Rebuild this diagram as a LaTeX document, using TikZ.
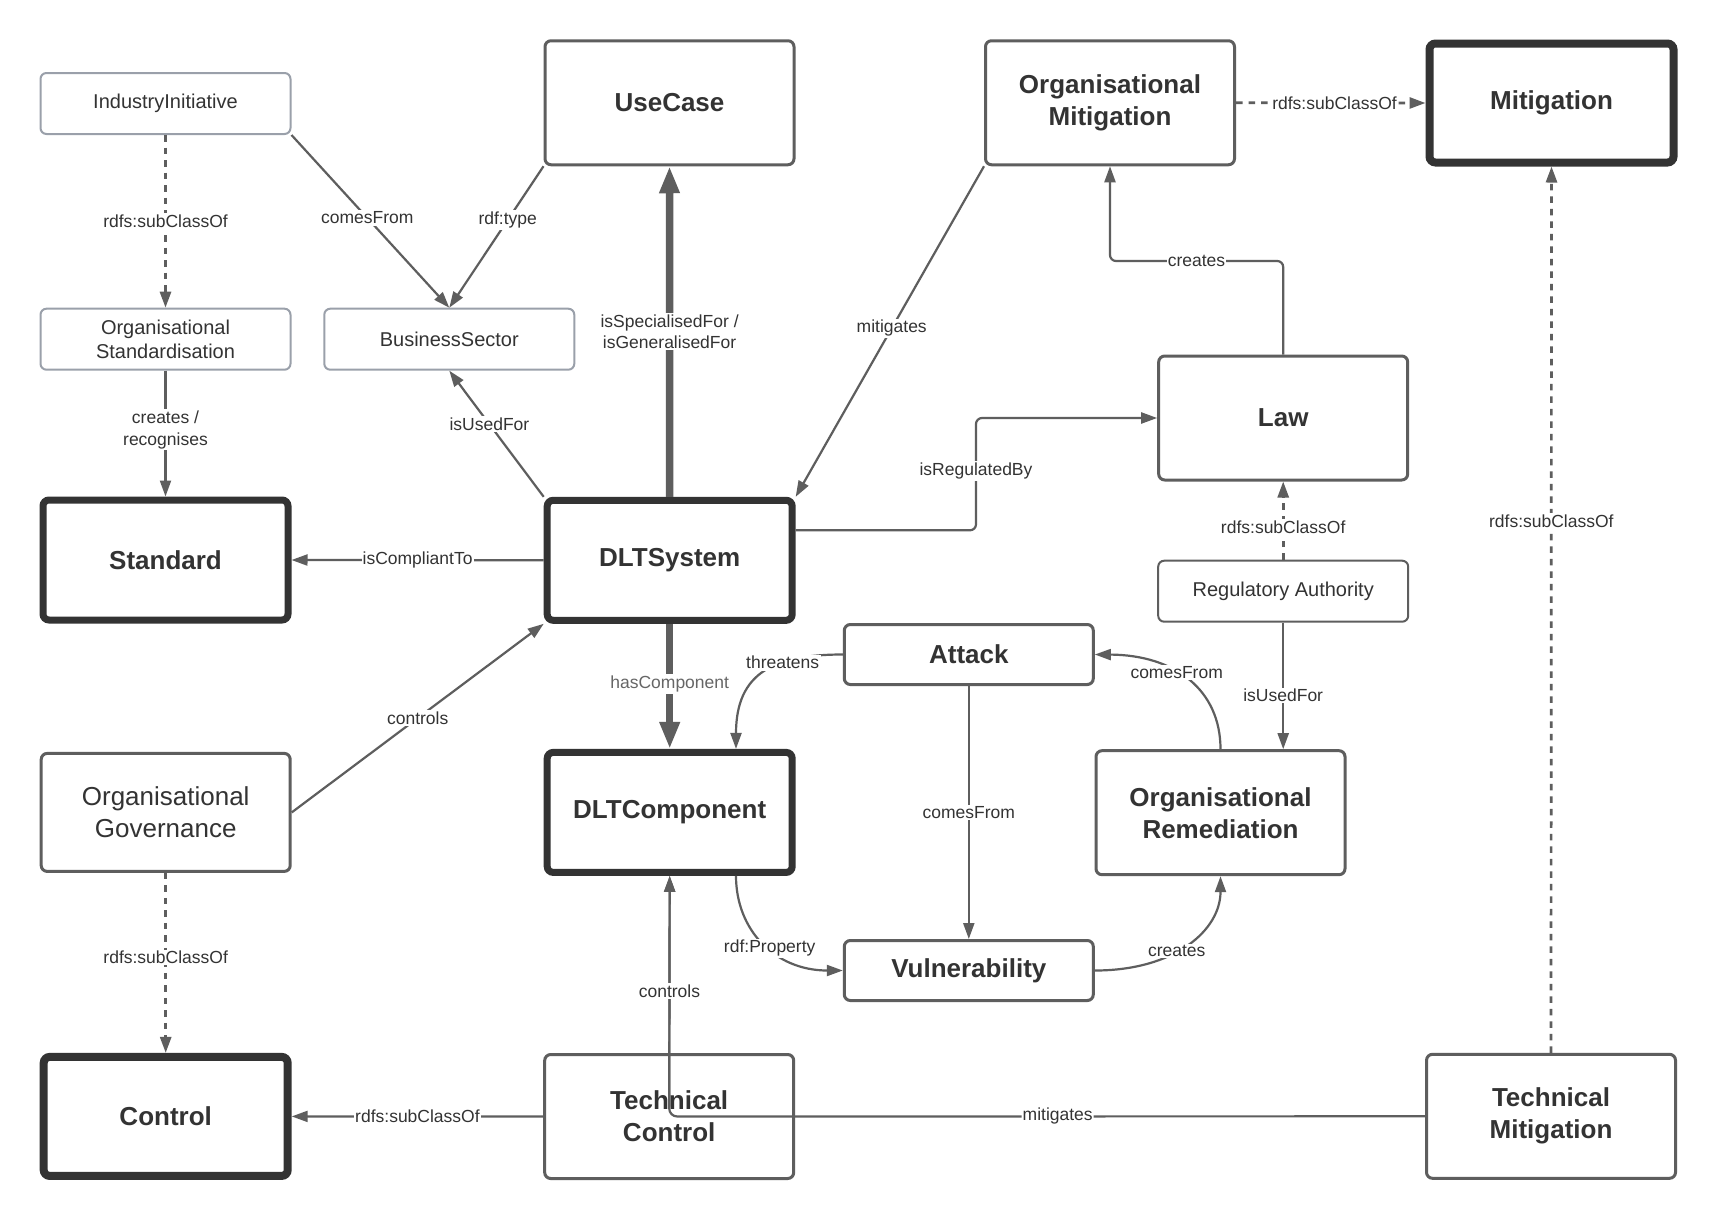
\documentclass[tikz,border=0pt]{standalone}
\usepackage{fontspec}
\setmainfont{Liberation Sans}
\usetikzlibrary{arrows.meta}

\definecolor{ink}{HTML}{333333}
\definecolor{edge}{HTML}{5E5E5E}
\definecolor{pale}{HTML}{9AA0AA}
\definecolor{soft}{HTML}{666666}

\begin{document}
\begin{tikzpicture}[x=1pt,y=-1pt,
  card/.style={rounded corners=6pt, fill=white, align=center, inner sep=0pt, text=ink},
  boldtext/.style={font=\fontsize{26}{32}\selectfont\bfseries},
  heavybox/.style={card, boldtext, draw=ink, line width=7pt, minimum width=245pt, minimum height=120pt},
  heaviest/.style={card, boldtext, draw=ink, line width=8pt, minimum width=244pt, minimum height=119pt},
  plainbox/.style={card, boldtext, draw=edge, line width=3pt, minimum width=249pt, minimum height=124pt},
  slimbox/.style={card, boldtext, draw=edge, line width=3pt, minimum width=249pt, minimum height=60pt},
  palebox/.style={card, font=\fontsize{20}{24}\selectfont, draw=pale, line width=2pt, minimum width=250pt, minimum height=61pt},
  thinbox/.style={palebox, draw=edge},
  link/.style={draw=edge, line width=2.2pt, -{Triangle[length=16pt,width=11pt]}},
  dashlink/.style={link, line width=2.7pt, dash pattern=on 6.5pt off 6pt},
  biglink/.style={draw=edge, line width=7.5pt, -{Triangle[length=27pt,width=19pt]}},
  lbl/.style={fill=white, inner sep=1.5pt, text=ink, align=center, font=\fontsize{17.5}{21.5}\selectfont},
]
% canvas
\fill[white] (0,0) rectangle (1718,1218);

% classes
\node[palebox]  (ii)  at (165.5,103.5)  {IndustryInitiative};
\node[plainbox] (uc)  at (669.5,102.75) {UseCase};
\node[plainbox] (om)  at (1110,102.75)  {Organisational\\Mitigation};
\node[heaviest] (mit) at (1551.5,103)   {Mitigation};
\node[palebox]  (os)  at (165.5,339.2)  {Organisational\\Standardisation};
\node[palebox]  (bs)  at (449.3,339.2)  {BusinessSector};
\node[plainbox] (law) at (1283.2,418)   {Law};
\node[heavybox] (std) at (165.5,560)    {Standard};
\node[heavybox] (dlt) at (669.7,560.3)  {DLTSystem};
\node[thinbox]  (ra)  at (1283.2,591.2) {Regulatory Authority};
\node[slimbox]  (at)  at (968.8,654.5)  {Attack};
\node[plainbox, font=\fontsize{26}{32}\selectfont, minimum height=118pt] (og) at (165.7,812.4) {Organisational\\Governance};
\node[heavybox] (dc)  at (669.7,812.4)  {DLTComponent};
\node[plainbox] (or)  at (1220.5,812.7) {Organisational\\Remediation};
\node[slimbox]  (vul) at (968.8,970.5)  {Vulnerability};
\node[heaviest] (ctl) at (165.7,1116.4) {Control};
\node[plainbox] (tc)  at (669.2,1116.5) {Technical\\Control};
\node[plainbox] (tm)  at (1551,1116.3)  {Technical\\Mitigation};

% bend points of the routed connectors
\coordinate (cbend) at (1196.5,261);
\coordinate (rbend) at (976,471);

% relations
\draw[dashlink] (ii.south) -- node[lbl, pos=0.5] {rdfs:subClassOf} (os.north);
\draw[link] (ii.south east) -- node[lbl, pos=0.48] {comesFrom} (bs.north);
\draw[link] (uc.south west) -- node[lbl, pos=0.38] {rdf:type} (bs.north);
\draw[biglink] (dlt.north) -- node[lbl] {isSpecialisedFor /\\isGeneralisedFor} (uc.south);
\draw[link] (dlt.north west) -- node[lbl, pos=0.575] {isUsedFor} (bs.south);
\draw[link] (os.south) -- node[lbl, pos=0.47] {creates /\\recognises} (std.north);
\draw[link] (dlt.west) -- node[lbl, inner sep=1pt] {isCompliantTo} (std.east);
\draw[link] (om.south west) -- node[lbl, pos=0.49] {mitigates} (dlt.north east);
\draw[dashlink] (om.east) -- node[lbl, inner sep=1pt, pos=0.52] {rdfs:subClassOf} (mit.west);
\draw[link, rounded corners=6pt] (law.north) |- (cbend) -| (om.south);
\node[lbl, inner sep=1pt] at (cbend) {creates};
\draw[link, rounded corners=6pt] ([yshift=30pt]dlt.east) -| (rbend) |- (law.west);
\node[lbl] at (rbend) {isRegulatedBy};
\draw[dashlink] (ra.north) -- node[lbl, pos=0.42] {rdfs:subClassOf} (law.south);
\draw[dashlink] (tm.north) -- node[lbl, pos=0.6] {rdfs:subClassOf} (mit.south);
\draw[biglink] (dlt.south) -- node[lbl, text=soft, pos=0.48] {hasComponent} (dc.north);
\draw[link] (at.west) .. controls (775,654.5) and (736,672) .. node[lbl, pos=0.35] {threatens} ([xshift=66.3pt]dc.north);
\draw[link] (og.east) -- node[lbl] {controls} (dlt.south west);
\draw[dashlink] (og.south) -- node[lbl, pos=0.47] {rdfs:subClassOf} (ctl.north);
\draw[link] (tc.west) -- node[lbl, inner sep=1pt] {rdfs:subClassOf} (ctl.east);
\draw[link, rounded corners=8pt] (tm.west) -- node[lbl, inner sep=1pt, pos=0.486] {mitigates} (tc.center) -- (dc.south);
\draw[link] ([yshift=10pt]tc.center) -- node[lbl] {controls} (dc.south);
\draw[link] ([xshift=66.3pt]dc.south) .. controls (736,930) and (775,970.5) .. node[lbl, pos=0.55] {rdf:Property} (vul.west);
\draw[link] (at.south) -- node[lbl] {comesFrom} (vul.north);
\draw[link] (or.north) .. controls (1220.5,690) and (1175,655) .. node[lbl, pos=0.58] {comesFrom} (at.east);
\draw[link] (vul.east) .. controls (1175,970.5) and (1220.5,930) .. node[lbl, pos=0.42] {creates} (or.south);
\draw[link] (ra.south) -- node[lbl, pos=0.575] {isUsedFor} (ra.south |- or.north);
\end{tikzpicture}
\end{document}
